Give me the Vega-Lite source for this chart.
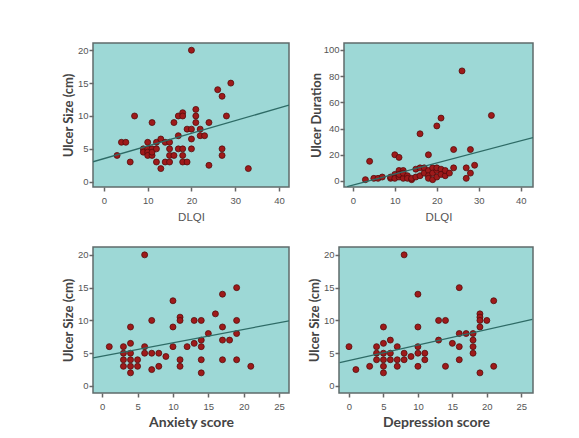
{
  "$schema": "https://vega.github.io/schema/vega-lite/v6.json",
  "background": "white",
  "padding": {"left": 61, "top": 42, "right": 5, "bottom": 5},
  "datasets": {
    "p1": [
      {"x":3,"y":4},{"x":4,"y":6},{"x":5,"y":6},{"x":6,"y":3},{"x":7,"y":10},{"x":9,"y":5},{"x":9,"y":4.5},{"x":10,"y":5},{"x":10,"y":4.5},{"x":10,"y":4},{"x":10,"y":6},{"x":11,"y":4},{"x":11,"y":5},{"x":11,"y":4.5},{"x":11,"y":9},{"x":12,"y":5},{"x":12,"y":6},{"x":12,"y":3},{"x":13,"y":6.5},{"x":13,"y":2},{"x":14,"y":6},{"x":14,"y":3},{"x":15,"y":6},{"x":15,"y":3},{"x":15,"y":5},{"x":15,"y":4},{"x":16,"y":4},{"x":16,"y":9},{"x":17,"y":10},{"x":17,"y":7},{"x":17,"y":5},{"x":18,"y":10.5},{"x":18,"y":10},{"x":18,"y":5},{"x":18,"y":4},{"x":18,"y":3},{"x":19,"y":3},{"x":19,"y":8},{"x":20,"y":8},{"x":20,"y":20},{"x":20,"y":6.5},{"x":20,"y":5},{"x":21,"y":11},{"x":21,"y":10},{"x":21,"y":9},{"x":22,"y":8},{"x":22,"y":7},{"x":23,"y":7},{"x":24,"y":9},{"x":24,"y":2.5},{"x":26,"y":14},{"x":27,"y":13},{"x":27,"y":5},{"x":27,"y":4},{"x":28,"y":10},{"x":29,"y":15},{"x":33,"y":2}
    ],
    "l1": [{"x":-2.5,"y":3.04},{"x":42.3,"y":11.65}],
    "p2": [
      {"x":3,"y":1},{"x":4,"y":15},{"x":5,"y":2},{"x":6,"y":2},{"x":7,"y":3},{"x":9,"y":2},{"x":9,"y":3},{"x":10,"y":20},{"x":10,"y":5},{"x":10,"y":2},{"x":11,"y":18},{"x":11,"y":8},{"x":11,"y":3},{"x":11,"y":5},{"x":12,"y":8},{"x":12,"y":2},{"x":12,"y":6},{"x":13,"y":4},{"x":13,"y":2},{"x":14,"y":1},{"x":14,"y":2},{"x":15,"y":3},{"x":15,"y":9},{"x":16,"y":36},{"x":16,"y":10},{"x":16,"y":4},{"x":17,"y":10},{"x":17,"y":6},{"x":18,"y":20},{"x":18,"y":8},{"x":18,"y":4},{"x":18,"y":2},{"x":19,"y":10},{"x":19,"y":1},{"x":19,"y":6},{"x":20,"y":42},{"x":20,"y":8},{"x":20,"y":10},{"x":20,"y":3},{"x":21,"y":48},{"x":21,"y":9},{"x":21,"y":5},{"x":22,"y":4},{"x":22,"y":8},{"x":23,"y":6},{"x":24,"y":24},{"x":24,"y":10},{"x":26,"y":84},{"x":27,"y":10},{"x":27,"y":2},{"x":28,"y":24},{"x":28,"y":6},{"x":29,"y":12},{"x":33,"y":50}
    ],
    "l2": [{"x":-1.35,"y":-4.3},{"x":42.9,"y":33.1}],
    "p3": [
      {"x":1,"y":6},{"x":3,"y":6},{"x":3,"y":5},{"x":3,"y":4},{"x":3,"y":3},{"x":4,"y":9},{"x":4,"y":6.5},{"x":4,"y":5},{"x":4,"y":4},{"x":4,"y":3},{"x":4,"y":2},{"x":5,"y":4},{"x":5,"y":3},{"x":6,"y":20},{"x":6,"y":6},{"x":6,"y":5},{"x":7,"y":10},{"x":7,"y":5},{"x":7,"y":2.5},{"x":8,"y":5},{"x":8,"y":3},{"x":9,"y":4.5},{"x":10,"y":13},{"x":10,"y":9},{"x":10,"y":6},{"x":11,"y":10.5},{"x":11,"y":10},{"x":11,"y":4},{"x":11,"y":3},{"x":12,"y":6},{"x":13,"y":10},{"x":13,"y":6.5},{"x":14,"y":10},{"x":14,"y":7},{"x":14,"y":6},{"x":14,"y":4},{"x":14,"y":2},{"x":15,"y":8},{"x":16,"y":11},{"x":17,"y":14},{"x":17,"y":9},{"x":17,"y":7},{"x":17,"y":4},{"x":18,"y":7},{"x":19,"y":15},{"x":19,"y":10},{"x":19,"y":8},{"x":19,"y":4},{"x":21,"y":3}
    ],
    "l3": [{"x":-1.29,"y":4.29},{"x":26.43,"y":9.95}],
    "p4": [
      {"x":0,"y":6},{"x":1,"y":2.5},{"x":3,"y":3},{"x":4,"y":6},{"x":4,"y":5},{"x":4,"y":4},{"x":5,"y":9},{"x":5,"y":6.5},{"x":5,"y":5},{"x":5,"y":4},{"x":5,"y":3},{"x":5,"y":2},{"x":6,"y":7},{"x":6,"y":5},{"x":6,"y":4},{"x":7,"y":6},{"x":7,"y":4},{"x":7,"y":3},{"x":8,"y":20},{"x":8,"y":5},{"x":8,"y":4},{"x":9,"y":4.5},{"x":10,"y":14},{"x":10,"y":9},{"x":10,"y":6},{"x":10,"y":5},{"x":10,"y":3},{"x":11,"y":5},{"x":11,"y":4},{"x":13,"y":10},{"x":13,"y":7},{"x":14,"y":10},{"x":14,"y":3},{"x":15,"y":6.5},{"x":16,"y":15},{"x":16,"y":8},{"x":16,"y":6},{"x":16,"y":4},{"x":17,"y":8},{"x":18,"y":8},{"x":18,"y":7},{"x":18,"y":6},{"x":18,"y":5},{"x":19,"y":11},{"x":19,"y":10.5},{"x":19,"y":10},{"x":19,"y":9},{"x":19,"y":2},{"x":20,"y":10},{"x":21,"y":13},{"x":21,"y":3}
    ],
    "l4": [{"x":-1.35,"y":3.57},{"x":26.6,"y":10.15}]
  },
  "vconcat": [
    {
      "hconcat": [
        {
          "width": 196, "height": 144,
          "layer": [
            {"data": {"name": "p1"}, "mark": {"type": "circle", "size": 36, "fill": "#9e1a1a", "stroke": "#550c0c", "strokeWidth": 0.8, "opacity": 1},
             "encoding": {
               "x": {"field": "x", "type": "quantitative", "scale": {"domain": [-2.5, 42.3], "nice": false, "zero": false}, "axis": {"values": [0,10,20,30,40], "title": "DLQI", "titleFont": "Liberation Sans", "titleFontWeight": "normal", "titleFontSize": 11.5, "titleColor": "#555", "titlePadding": 7}},
               "y": {"field": "y", "type": "quantitative", "scale": {"domain": [-0.8, 21.1], "nice": false, "zero": false}, "axis": {"values": [0,5,10,15,20], "title": "Ulcer Size (cm)", "titlePadding": 2}}
             }},
            {"data": {"name": "l1"}, "mark": {"type": "line", "color": "#2e6b66", "strokeWidth": 1.3, "clip": true},
             "encoding": {"x": {"field": "x", "type": "quantitative"}, "y": {"field": "y", "type": "quantitative"}}}
          ]
        },
        {
          "width": 189, "height": 144,
          "layer": [
            {"data": {"name": "p2"}, "mark": {"type": "circle", "size": 36, "fill": "#9e1a1a", "stroke": "#550c0c", "strokeWidth": 0.8, "opacity": 1},
             "encoding": {
               "x": {"field": "x", "type": "quantitative", "scale": {"domain": [-2.1, 42.9], "nice": false, "zero": false}, "axis": {"values": [0,10,20,30,40], "title": "DLQI", "titleFont": "Liberation Sans", "titleFontWeight": "normal", "titleFontSize": 11.5, "titleColor": "#555", "titlePadding": 7}},
               "y": {"field": "y", "type": "quantitative", "scale": {"domain": [-4.6, 105.3], "nice": false, "zero": false}, "axis": {"values": [0,20,40,60,80,100], "title": "Ulcer Duration", "titlePadding": 0}}
             }},
            {"data": {"name": "l2"}, "mark": {"type": "line", "color": "#2e6b66", "strokeWidth": 1.3, "clip": true},
             "encoding": {"x": {"field": "x", "type": "quantitative"}, "y": {"field": "y", "type": "quantitative"}}}
          ]
        }
      ],
      "spacing": 55,
      "bounds": "flush"
    },
    {
      "hconcat": [
        {
          "width": 196, "height": 146,
          "layer": [
            {"data": {"name": "p3"}, "mark": {"type": "circle", "size": 36, "fill": "#9e1a1a", "stroke": "#550c0c", "strokeWidth": 0.8, "opacity": 1},
             "encoding": {
               "x": {"field": "x", "type": "quantitative", "scale": {"domain": [-1.3, 26.4], "nice": false, "zero": false}, "axis": {"values": [0,5,10,15,20,25], "title": "Anxiety score", "titleFontSize": 14, "titlePadding": 5}},
               "y": {"field": "y", "type": "quantitative", "scale": {"domain": [-1.07, 21.2], "nice": false, "zero": false}, "axis": {"values": [0,5,10,15,20], "title": "Ulcer Size (cm)", "titlePadding": 2}}
             }},
            {"data": {"name": "l3"}, "mark": {"type": "line", "color": "#2e6b66", "strokeWidth": 1.3, "clip": true},
             "encoding": {"x": {"field": "x", "type": "quantitative"}, "y": {"field": "y", "type": "quantitative"}}}
          ]
        },
        {
          "width": 194, "height": 146,
          "layer": [
            {"data": {"name": "p4"}, "mark": {"type": "circle", "size": 36, "fill": "#9e1a1a", "stroke": "#550c0c", "strokeWidth": 0.8, "opacity": 1},
             "encoding": {
               "x": {"field": "x", "type": "quantitative", "scale": {"domain": [-1.45, 26.7], "nice": false, "zero": false}, "axis": {"values": [0,5,10,15,20,25], "title": "Depression score", "titleFontSize": 14, "titlePadding": 5}},
               "y": {"field": "y", "type": "quantitative", "scale": {"domain": [-1.07, 21.2], "nice": false, "zero": false}, "axis": {"values": [0,5,10,15,20], "title": "Ulcer Size (cm)", "titlePadding": 2}}
             }},
            {"data": {"name": "l4"}, "mark": {"type": "line", "color": "#2e6b66", "strokeWidth": 1.3, "clip": true},
             "encoding": {"x": {"field": "x", "type": "quantitative"}, "y": {"field": "y", "type": "quantitative"}}}
          ]
        }
      ],
      "spacing": 50,
      "bounds": "flush"
    }
  ],
  "spacing": 22,
  "config": {
    "view": {"fill": "#9dd8d6", "stroke": "#5f6b6b", "strokeWidth": 1.5},
    "axis": {
      "domain": false, "grid": false, "labelOverlap": false, "labelBound": false, "labelFlush": false, "tickCount": 12,
      "tickColor": "#666", "tickSize": 4, "tickWidth": 1.5,
      "labelFont": "Liberation Sans", "labelFontSize": 9.5, "labelColor": "#555",
      "titleFont": "Lato", "titleFontWeight": "bold", "titleFontSize": 13, "titleColor": "#444"
    },
    "axisX": {"labelPadding": 4},
    "axisY": {"labelPadding": 1}
  }
}
